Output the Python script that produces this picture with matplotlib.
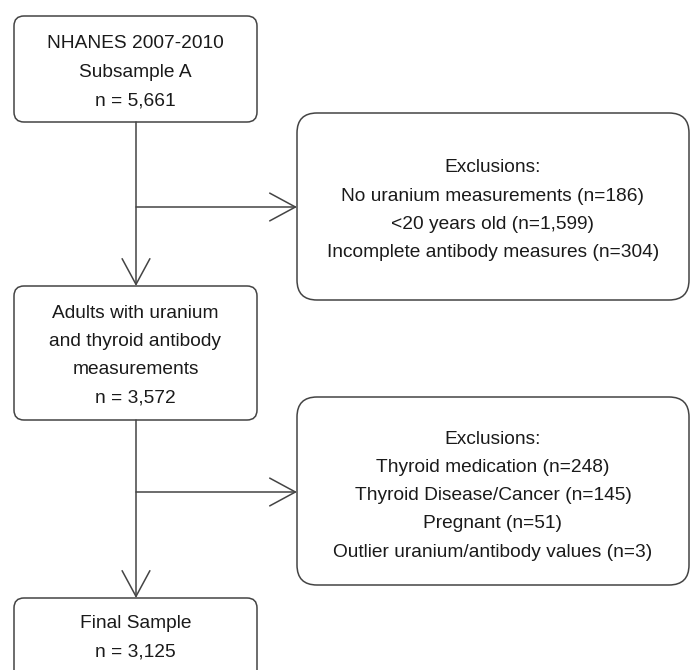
import matplotlib.pyplot as plt
from matplotlib.patches import FancyBboxPatch

plt.rcParams['font.family'] = ['Liberation Sans', 'DejaVu Sans']

# box texts, top to bottom
main_texts = [
    ["NHANES 2007-2010", "Subsample A", "n = 5,661"],
    ["Adults with uranium", "and thyroid antibody", "measurements", "n = 3,572"],
    ["Final Sample", "n = 3,125"],
]
excl_texts = [
    ["Exclusions:", "No uranium measurements (n=186)", "<20 years old (n=1,599)",
     "Incomplete antibody measures (n=304)"],
    ["Exclusions:", "Thyroid medication (n=248)", "Thyroid Disease/Cancer (n=145)",
     "Pregnant (n=51)", "Outlier uranium/antibody values (n=3)"],
]

line_c = "#444444"
text_c = "#1a1a1a"
fs = 13.8
step = 28.3

fig = plt.figure(figsize=(6.91, 6.70), dpi=100)
ax = fig.add_axes([0, 0, 1, 1])
ax.set_xlim(0, 691)
ax.set_ylim(670, 0)
ax.axis("off")


def box(x0, y0, x1, y1, r, lines, ty):
    p = FancyBboxPatch((x0, y0), x1 - x0, y1 - y0,
                       boxstyle=f"round,pad=0,rounding_size={r}",
                       fc="white", ec=line_c, lw=1.1)
    ax.add_patch(p)
    cx = (x0 + x1) / 2
    for i, t in enumerate(lines):
        ax.text(cx, ty + i * step, t, ha="center", va="center",
                fontsize=fs, color=text_c)


def arrow(x0, y0, x1, y1):
    ax.annotate("", xy=(x1, y1), xytext=(x0, y0),
                arrowprops=dict(arrowstyle="->,head_length=1.85,head_width=1.0",
                                color=line_c, lw=1.1, shrinkA=0, shrinkB=0,
                                mutation_scale=10))


# main column
box(14, 16, 257, 122, 10, main_texts[0], 44)
box(14, 286, 257, 420, 10, main_texts[1], 313)
box(14, 598, 257, 720, 10, main_texts[2], 624)

# exclusion boxes
box(297, 113, 689, 300, 20, excl_texts[0], 168)
box(297, 397, 689, 585, 20, excl_texts[1], 439)

# arrows
cx = 136
arrow(cx, 122, cx, 286)
arrow(cx, 420, cx, 598)
arrow(cx, 207, 297, 207)
arrow(cx, 492, 297, 492)

fig.savefig("out.png", dpi=100)
